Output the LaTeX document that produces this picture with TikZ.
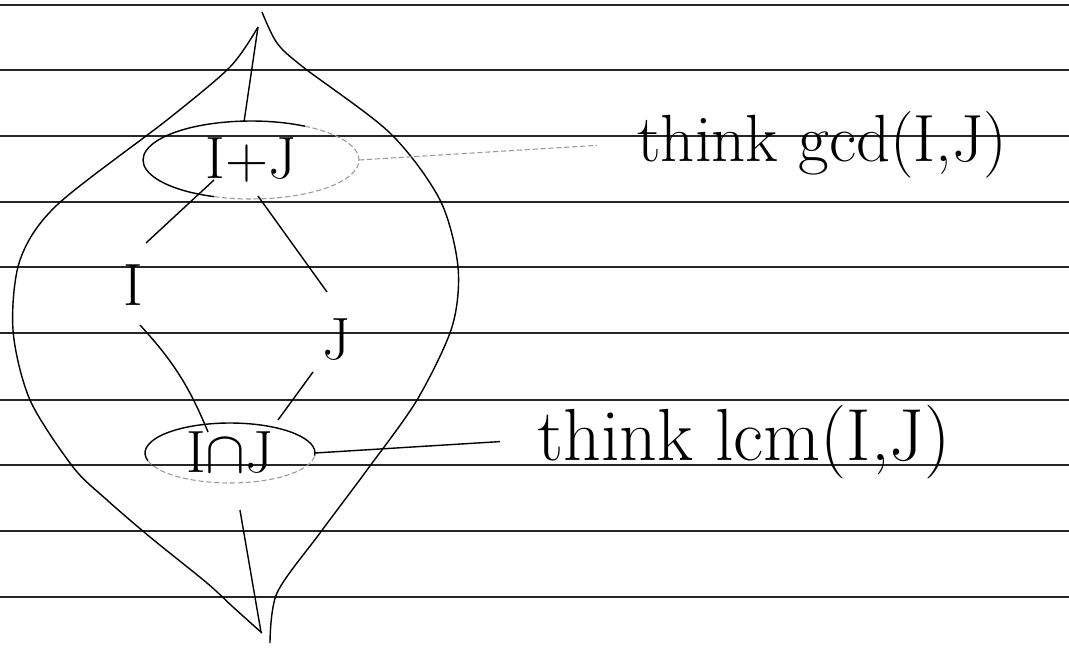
\documentclass[tikz,border=0pt]{standalone}
\usepackage{fix-cm}
\usepackage{fontspec}
\usetikzlibrary{shapes.geometric}

\begin{document}
\begin{tikzpicture}[
  x=0.02cm, y=0.02cm,
  every node/.style={font=\fontsize{34}{36}\selectfont, inner sep=2pt},
  rule/.style={draw=black!85, line width=1.2pt},
  pen/.style={draw, line width=0.8pt},
  faint/.style={draw=black!40, line width=0.6pt, dash pattern=on 3pt off 1.5pt},
  ideal/.style={ellipse, inner sep=0pt, outer sep=0pt},
  note/.style={inner sep=0pt, anchor=base west}
]
\useasboundingbox (0,0) rectangle (1069,647);

\foreach \ry in {642,577,511,445,380,314,247,182,116,50}
  \draw[rule] (0,\ry) -- (1069,\ry);

\draw[pen] plot[smooth] coordinates {(258,620) (230,580) (167,527) (57,442) (20,387)
  (13,317) (30,247) (73,180) (107,147) (150,110) (207,64) (233,40) (262,14)};
\draw[pen] plot[smooth] coordinates {(262,635) (277,604) (303,580) (390,514) (440,447)
  (458,380) (452,320) (417,247) (367,177) (320,114) (277,54) (270,4)};

\node[ideal, minimum width=4.32cm, minimum height=1.56cm] (sum) at (251,487) {I+J};
\node (I) at (133,362) {I};
\node (J) at (337,307) {J};
\node[ideal, minimum width=3.4cm, minimum height=1.2cm] (meet) at (230,194) {\raisebox{-6pt}{I$\cap$J}};

\node[note, font=\fontsize{38}{40}\selectfont] (gcd) at (637,485) {think gcd(I,J)};
\node[note, font=\fontsize{42}{44}\selectfont] (lcm) at (537,187) {think lcm(I,J)};

\coordinate (toptip) at (258,620);
\coordinate (bottip) at (261,15);

\draw[pen] ([shift={(60:2.16cm and 0.78cm)}]sum.center)
  arc[start angle=60, end angle=250, x radius=2.16cm, y radius=0.78cm];
\draw[faint] ([shift={(250:2.16cm and 0.78cm)}]sum.center)
  arc[start angle=250, end angle=420, x radius=2.16cm, y radius=0.78cm];
\draw[pen] ([shift={(-5:1.7cm and 0.6cm)}]meet.center)
  arc[start angle=-5, end angle=195, x radius=1.7cm, y radius=0.6cm];
\draw[faint] ([shift={(195:1.7cm and 0.6cm)}]meet.center)
  arc[start angle=195, end angle=355, x radius=1.7cm, y radius=0.6cm];

\draw[pen] (toptip) -- (sum.100);
\draw[pen, shorten <=0.55cm] (meet.280) -- (bottip);

\draw[pen] ([shift={(-37,-20)}]sum.center) -- ([shift={(13,42)}]I.center);
\draw[pen] ([shift={(7,-36)}]sum.center) -- ([shift={(-10,48)}]J.center);
\draw[pen] ([shift={(7,-40)}]I.center) to[bend left=10] ([shift={(-22,21)}]meet.center);
\draw[pen] ([shift={(-24,-32)}]J.center) -- ([shift={(48,33)}]meet.center);

\draw[faint] (sum.east) -- ([xshift=-0.8cm]gcd.west);
\draw[pen] (meet.east) -- ([xshift=-0.74cm]lcm.west);

\end{tikzpicture}
\end{document}
